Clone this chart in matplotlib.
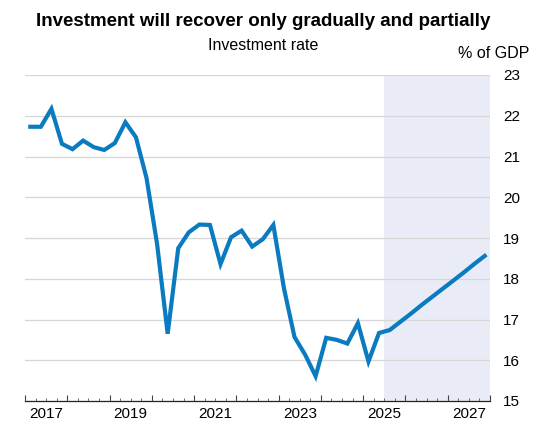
import numpy as np
import pandas as pd
import matplotlib
matplotlib.use("Agg")
import matplotlib.pyplot as plt
from matplotlib.ticker import FixedLocator, MultipleLocator

plt.rcParams['font.family'] = ['Liberation Sans', 'DejaVu Sans']

# investment rate, % of GDP, quarterly from 2017Q1
actual = [21.73, 21.73, 22.17, 21.31, 21.18, 21.39, 21.23, 21.16,
          21.33, 21.84, 21.47, 20.47, 18.85, 16.65, 18.75, 19.14,
          19.33, 19.32, 18.36, 19.02, 19.18, 18.79, 18.97, 19.32,
          17.77, 16.57, 16.14, 15.61, 16.55, 16.50, 16.41, 16.91,
          15.97, 16.67]
forecast = [16.74, 16.94, 17.14, 17.35, 17.55, 17.75, 17.95, 18.15,
            18.36, 18.56]
start = "2017Q1"
forecast_start = "2025Q3"
year_labels = [2017, 2019, 2021, 2023, 2025, 2027]

values = actual + forecast
per = pd.period_range(start, periods=len(values), freq="Q")
x = per.year + (per.quarter - 0.5) / 4
fs = pd.Period(forecast_start, freq="Q")
x_fs = fs.year + (fs.quarter - 1) / 4

BLUE = "#0a7bc1"
SHADE = "#e9ecf6"

fig = plt.figure(figsize=(5.44, 4.32), dpi=100)
ax = fig.add_axes([25 / 544, 1 - 401 / 432, 465 / 544, 326 / 432])

ax.axvspan(x_fs, 2028, color=SHADE, lw=0, zorder=0.2)
ax.plot(x, values, color=BLUE, lw=3.0, solid_joinstyle="miter", zorder=3)

ax.set_xlim(2017, 2028)
ax.set_ylim(15, 23)
ax.set_axisbelow(True)
ax.yaxis.grid(True, color="#d6d6d6", lw=0.9)

for s in ("top", "left", "right"):
    ax.spines[s].set_visible(False)
ax.spines["bottom"].set_color("#222222")
ax.spines["bottom"].set_linewidth(0.9)

ax.yaxis.tick_right()
ax.yaxis.set_major_locator(MultipleLocator(1))
ax.tick_params(axis="y", length=0, pad=9.5, labelsize=11)

ax.xaxis.set_major_locator(MultipleLocator(1))
ax.xaxis.set_minor_locator(MultipleLocator(0.25))
ax.tick_params(axis="x", which="major", direction="in", length=4, width=0.8,
               color="#444444", labelbottom=False)
ax.tick_params(axis="x", which="minor", direction="in", length=2.2, width=0.7,
               color="#666666")

sec = ax.secondary_xaxis("bottom")
sec.xaxis.set_major_locator(FixedLocator([y + 0.5 for y in year_labels]))
sec.set_xticklabels([str(y) for y in year_labels])
sec.tick_params(length=0, pad=4, labelsize=11)
sec.spines["bottom"].set_visible(False)

fig.text(263 / 544, 1 - 21 / 432, "Investment will recover only gradually and partially",
         ha="center", va="center", fontsize=13.5, fontweight="bold")
fig.text(263 / 544, 1 - 45 / 432, "Investment rate", ha="center", va="center",
         fontsize=11.5)
fig.text(529 / 544, 1 - 53 / 432, "% of GDP", ha="right", va="center",
         fontsize=11.5)

fig.savefig("out.png", dpi=100)
